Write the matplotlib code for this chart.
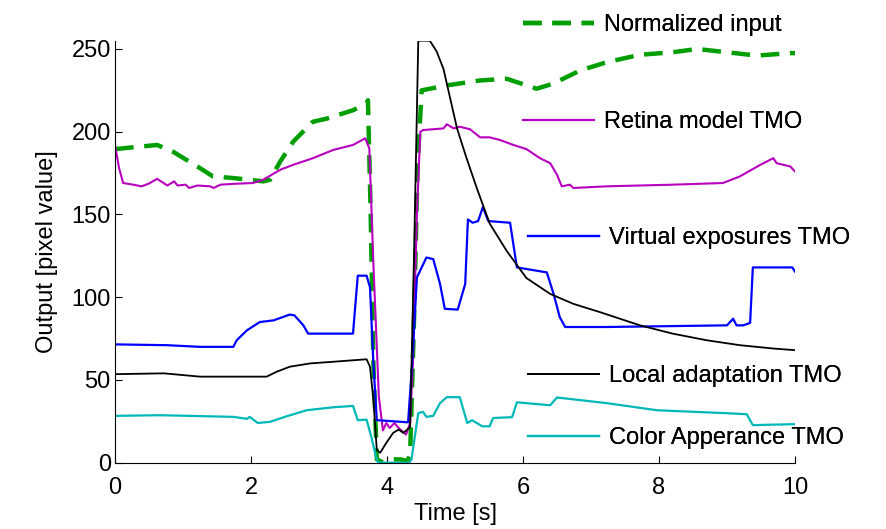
import matplotlib
matplotlib.use("Agg")
import matplotlib.pyplot as plt

plt.rcParams['font.family'] = ['Liberation Sans', 'DejaVu Sans']

# Normalized input
t_in = [0, 0.62, 0.85, 1.25, 1.44, 1.74, 2.18, 2.28, 2.43, 2.62, 2.91, 3.12, 3.50, 3.70, 3.72,
        3.76, 3.80, 3.85, 3.95, 4.10, 4.20, 4.30, 4.34, 4.40, 4.45, 4.51, 4.88, 5.37, 5.76,
        6.20, 6.44, 6.84, 7.23, 7.72, 8.20, 8.56, 9.00, 9.44, 9.93, 10.0]
v_in = [189.5, 192, 188, 178, 173, 172, 170, 171, 182, 194, 206, 208, 213, 217, 219,
        150, 60, 2, 0, 2, 2, 1, 5, 90, 180, 225, 228, 231, 232,
        226, 229, 237, 242, 246.5, 248, 250, 248, 246, 247.5, 247.5]

# Retina model TMO
t_ret = [0, 0.06, 0.12, 0.27, 0.39, 0.49, 0.62, 0.77, 0.87, 0.92, 1.04, 1.09, 1.21, 1.40, 1.45,
         1.55, 1.74, 2.03, 2.18, 2.43, 2.62, 2.91, 3.21, 3.50, 3.68, 3.74, 3.80, 3.88, 3.94,
         3.99, 4.04, 4.11, 4.17, 4.28, 4.34, 4.38, 4.44, 4.49, 4.53, 4.83, 4.88, 4.98, 5.07,
         5.22, 5.37, 5.51, 5.66, 5.86, 6.05, 6.25, 6.40, 6.50, 6.57, 6.69, 6.74, 7.23, 8.20,
         8.94, 9.19, 9.49, 9.68, 9.73, 9.93, 10.0]
v_ret = [192, 178, 169, 168, 167, 168.5, 171.5, 167.5, 170, 167.5, 168, 166, 167.5, 167, 166,
         168, 168.5, 169, 171, 177, 180, 184, 189, 192, 196, 190, 120, 40, 19.5,
         24, 21, 24, 21, 17, 24, 60, 150, 200, 201, 202, 204.5, 202, 203,
         201.5, 196.6, 196.6, 195, 192, 189.5, 184, 181, 174, 167, 168, 166, 167, 168,
         169, 173, 180, 184, 181, 179, 176]

# Virtual exposures TMO
t_ve = [0, 0.77, 1.25, 1.74, 1.79, 1.94, 2.13, 2.33, 2.57, 2.64, 2.77, 2.84, 3.50, 3.57, 3.70,
        3.75, 3.80, 3.85, 4.31, 4.37, 4.44, 4.58, 4.68, 4.78, 4.85, 5.04, 5.15, 5.19, 5.26,
        5.34, 5.41, 5.49, 5.81, 5.91, 6.35, 6.45, 6.54, 6.62, 7.23, 9.00, 9.09, 9.14, 9.24,
        9.34, 9.38, 9.96, 10.0]
v_ve = [71.5, 71, 70, 70, 74, 80, 85, 86, 89.5, 89, 83, 78, 78, 113, 113,
        106, 60, 25.7, 24.4, 60, 112, 124, 123, 108, 93, 92.5, 108, 147, 145,
        146, 154.5, 146, 145, 118, 115, 102, 88, 82, 82, 83, 87, 83, 83,
        84.5, 118, 118, 115.5]

# Local adaptation TMO
t_la = [0, 0.72, 1.25, 2.23, 2.38, 2.57, 2.87, 3.21, 3.70, 3.75, 3.80, 3.85, 3.90, 3.99, 4.09,
        4.17, 4.24, 4.34, 4.40, 4.46, 4.63, 4.73, 4.83, 4.93, 5.03, 5.17, 5.32, 5.51, 5.76,
        6.05, 6.40, 6.74, 7.13, 7.72, 8.20, 8.70, 9.19, 9.68, 10.0]
v_la = [53.5, 54, 52, 52, 55, 58, 60, 61, 62.5, 58, 38, 7.7, 6, 12, 18,
        20, 18, 21.5, 130, 255, 255, 248.5, 238, 220, 202, 184, 166, 144.5, 128,
        111.6, 102, 96, 91, 83, 78, 74, 71, 69, 68]

# Color Apperance TMO
t_ca = [0, 0.66, 1.74, 1.94, 1.98, 2.10, 2.28, 2.52, 2.82, 3.21, 3.50, 3.57, 3.70, 3.77, 3.85,
        3.88, 4.33, 4.36, 4.46, 4.53, 4.58, 4.68, 4.78, 4.88, 5.07, 5.18, 5.25, 5.40, 5.51,
        5.56, 5.84, 5.91, 6.40, 6.50, 7.23, 7.97, 9.00, 9.29, 9.38, 10.0]
v_ca = [28.3, 28.7, 27.7, 26.5, 27.7, 24, 24.7, 28, 31.7, 33.5, 34.3, 25.7, 26, 15.5, 1.6,
        0, 0, 2, 30, 30.7, 27.7, 28.3, 36, 39.6, 39.6, 24, 25.7, 22, 22,
        27, 27.5, 36.5, 34.7, 39.4, 36, 31.7, 29.9, 29.3, 22.7, 23.3]

fig = plt.figure(figsize=(8.86, 5.29), dpi=100)
ax = fig.add_axes([115 / 886, 1 - 462.7 / 529, 680 / 886, 422 / 529])

green = (0.0, 0.62, 0.0)
magenta = (0.72, 0.0, 0.75)
cyan = (0.0, 0.72, 0.72)

h_in, = ax.plot(t_in, v_in, color=green, lw=3.2, dashes=(4.2, 2.4), label='Normalized input')
h_ret, = ax.plot(t_ret, v_ret, color=magenta, lw=1.5, label='Retina model TMO')
h_ve, = ax.plot(t_ve, v_ve, color='blue', lw=1.6, label='Virtual exposures TMO')
h_la, = ax.plot(t_la, v_la, color='black', lw=1.3, label='Local adaptation TMO')
h_ca, = ax.plot(t_ca, v_ca, color=cyan, lw=1.6, label='Color Apperance TMO')

ax.set_xlim(0, 10)
ax.set_ylim(0, 255)
ax.set_xticks(range(0, 11, 2))
ax.set_yticks(range(0, 251, 50))
ax.spines['top'].set_visible(False)
ax.spines['right'].set_visible(False)
ax.tick_params(direction='in', length=5, labelsize=17)
ax.tick_params(axis='x', pad=10)
ax.tick_params(axis='y', pad=3)
ax.set_xlabel('Time [s]', fontsize=17, labelpad=3)
ax.set_ylabel('Output [pixel value]', fontsize=17, labelpad=10)

# legend entries scattered beside the curves, one per series
entries = [(h_in, 523, 25), (h_ret, 523, 122), (h_ve, 528, 238),
           (h_la, 528, 376), (h_ca, 528, 438)]
for h, px, py in entries:
    leg = fig.legend([h], [h.get_label()], loc='center left',
                     bbox_to_anchor=(px / 886, 1 - py / 529), frameon=False,
                     fontsize=17, handlelength=3.0, handletextpad=0.45,
                     borderpad=0, borderaxespad=0)
    fig.add_artist(leg)

fig.savefig('out.png', dpi=100)
